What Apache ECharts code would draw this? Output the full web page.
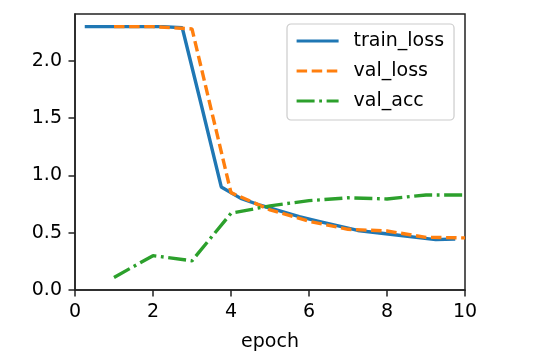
<!DOCTYPE html>
<html>
<head>
<meta charset="utf-8">
<script src="https://cdn.jsdelivr.net/npm/echarts@6/dist/echarts.min.js"></script>
<style>
html,body{margin:0;padding:0;background:#fff;}
#chart{width:538px;height:359px;}
</style>
</head>
<body>
<div id="chart"></div>
<script>
// Data
var trainEpochs = [0.25,0.75,1.25,1.75,2.25,2.75,3.25,3.75,4.25,4.75,5.25,5.75,6.25,6.75,7.25,7.75,8.25,8.75,9.25,9.75];
var trainLoss   = [2.30,2.30,2.30,2.30,2.30,2.29,1.60,0.90,0.80,0.74,0.69,0.64,0.60,0.56,0.52,0.50,0.48,0.46,0.44,0.445];
var valEpochs   = [1,2,3,4,5,6,7,8,9,10];
var valLoss     = [2.30,2.30,2.28,0.85,0.70,0.60,0.53,0.515,0.46,0.455];
var valAcc      = [0.11,0.30,0.255,0.67,0.735,0.78,0.805,0.795,0.83,0.83];
var xTicks      = [0,2,4,6,8,10];
var yTicks      = [0,0.5,1.0,1.5,2.0];

function pairs(xs, ys){ return xs.map(function(x,i){ return [x, ys[i]]; }); }

var font = 'DejaVu Sans';
var chart = echarts.init(document.getElementById('chart'), null, {renderer:'canvas'});
chart.setOption({
  animation:false,
  backgroundColor:'#fff',
  grid:{left:75, right:73, top:14, bottom:69, show:true, borderColor:'#222', borderWidth:1.5, backgroundColor:'transparent'},
  xAxis:{
    type:'value', min:0, max:10, interval:2,
    name:'epoch', nameLocation:'middle', nameGap:43,
    nameTextStyle:{fontFamily:font, fontSize:19, color:'#000'},
    axisLine:{show:true, lineStyle:{color:'#222', width:1.5}},
    axisTick:{show:true, length:6.5, lineStyle:{color:'#222', width:1.5}, customValues:xTicks},
    axisLabel:{fontFamily:font, fontSize:19, color:'#000', margin:13, customValues:xTicks},
    splitLine:{show:false}
  },
  yAxis:{
    type:'value', min:0, max:2.41,
    axisLine:{show:true, lineStyle:{color:'#222', width:1.5}},
    axisTick:{show:true, length:6.5, lineStyle:{color:'#222', width:1.5}, customValues:yTicks},
    axisLabel:{fontFamily:font, fontSize:19, color:'#000', margin:13, customValues:yTicks,
      formatter:function(v){ return v.toFixed(1); }},
    splitLine:{show:false}
  },
  legend:{
    orient:'vertical', left:287, top:24,
    backgroundColor:'rgba(255,255,255,0.8)', borderColor:'#ccc', borderWidth:1.2, borderRadius:4,
    padding:[6,10,8,8],
    itemWidth:42, itemHeight:14, itemGap:8,
    itemStyle:{opacity:0},
    lineStyle:{width:3.2},
    textStyle:{fontFamily:font, fontSize:19, color:'#000', lineHeight:22, padding:[0,0,0,10]},
    data:['train_loss','val_loss','val_acc']
  },
  series:[
    {name:'train_loss', type:'line', symbol:'none', data:pairs(trainEpochs, trainLoss),
      lineStyle:{color:'#1f77b4', width:3.4}, itemStyle:{color:'#1f77b4'}},
    {name:'val_loss', type:'line', symbol:'none', data:pairs(valEpochs, valLoss),
      lineStyle:{color:'#ff7f0e', width:3.4, type:[10.5,4.6]}, itemStyle:{color:'#ff7f0e'}},
    {name:'val_acc', type:'line', symbol:'none', data:pairs(valEpochs, valAcc),
      lineStyle:{color:'#2ca02c', width:3.4, type:[18,4.6,2.8,4.6]}, itemStyle:{color:'#2ca02c'}}
  ]
});
</script>
</body>
</html>
